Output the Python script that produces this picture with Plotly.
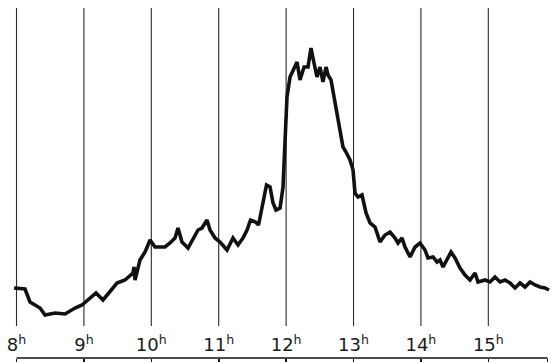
import plotly.graph_objects as go

# time of day (hours) and recorded intensity (arbitrary units)
times = [7.963, 8.126, 8.20, 8.349, 8.423, 8.571, 8.72, 8.868, 8.972, 9.09, 9.18, 9.283, 9.387,
         9.491, 9.61, 9.728, 9.743, 9.758, 9.832, 9.907, 9.951, 9.981, 10.055, 10.203, 10.277,
         10.352, 10.396, 10.455, 10.545, 10.619, 10.693, 10.752, 10.826, 10.871, 10.945, 11.019,
         11.123, 11.212, 11.286, 11.36, 11.42, 11.472, 11.546, 11.591, 11.65, 11.709, 11.761,
         11.806, 11.85, 11.91, 11.954, 11.984, 12.013, 12.058, 12.132, 12.162, 12.206, 12.266,
         12.325, 12.369, 12.414, 12.458, 12.503, 12.547, 12.592, 12.622, 12.666, 12.726, 12.77,
         12.80, 12.844, 12.889, 12.948, 12.993, 13.022, 13.067, 13.126, 13.186, 13.245, 13.319,
         13.393, 13.467, 13.542, 13.616, 13.66, 13.72, 13.764, 13.839, 13.913, 13.987, 14.061,
         14.105, 14.18, 14.239, 14.283, 14.328, 14.387, 14.447, 14.506, 14.58, 14.654, 14.729,
         14.803, 14.847, 14.951, 15.025, 15.099, 15.174, 15.248, 15.322, 15.396, 15.47, 15.545,
         15.619, 15.693, 15.767, 15.841, 15.901]
values = [74, 73, 60, 54, 47, 49, 48, 54, 57, 64, 69, 62, 70,
          79, 82, 89, 95, 82, 102, 110, 117, 122, 115, 115, 119,
          124, 134, 120, 114, 124, 132, 134, 142, 132, 124, 120,
          112, 124, 117, 124, 132, 142, 140, 137, 155, 177, 175,
          159, 152, 154, 175, 217, 265, 285, 295, 300, 282, 295,
          295, 314, 299, 285, 295, 280, 295, 287, 282, 259, 239,
          232, 215, 210, 202, 192, 169, 165, 167, 149, 139, 135,
          120, 127, 130, 124, 119, 124, 115, 105, 115, 119, 112,
          104, 105, 100, 102, 95, 102, 110, 104, 94, 87, 82,
          89, 80, 82, 80, 85, 80, 82, 79, 74, 79, 75,
          80, 77, 75, 74, 72]

hours = [8, 9, 10, 11, 12, 13, 14, 15]
hour_labels = ["8<sup>h</sup>", "9<sup>h</sup>", "10<sup>h</sup>", "11<sup>h</sup>",
               "12<sup>h</sup>", "13<sup>h</sup>", "14<sup>h</sup>", "15<sup>h</sup>"]
axis_end = 15.88

fig = go.Figure()
fig.add_trace(go.Scatter(x=times, y=values, mode="lines",
                         line=dict(color="#111111", width=3.6, shape="linear"),
                         hoverinfo="skip", showlegend=False))

# vertical hour lines
for h in hours:
    fig.add_shape(type="line", xref="x", yref="y", x0=h, x1=h, y0=36, y1=354,
                  line=dict(color="#2a2a2a", width=1.1), layer="below")
# time axis baseline
fig.add_shape(type="line", xref="x", yref="paper", x0=hours[0], x1=axis_end, y0=0, y1=0,
              line=dict(color="#111111", width=1.6))

fig.update_layout(
    width=551, height=362,
    margin=dict(l=0, r=0, t=0, b=4),
    paper_bgcolor="white", plot_bgcolor="white",
    xaxis=dict(range=[7.755, 15.93], tickvals=hours + [axis_end], ticktext=hour_labels + [""],
               ticks="outside", ticklen=5, tickwidth=1.6, tickcolor="#111111",
               ticklabelposition="inside", showgrid=False, zeroline=False, showline=False,
               tickfont=dict(family="DejaVu Sans", size=18, color="#1a1a1a")),
    yaxis=dict(range=[4, 362], visible=False, showgrid=False, zeroline=False),
)

fig.write_html("out.html", config={"displayModeBar": False, "staticPlot": True},
               post_script="document.body.style.margin='0';document.body.style.overflow='hidden';")
